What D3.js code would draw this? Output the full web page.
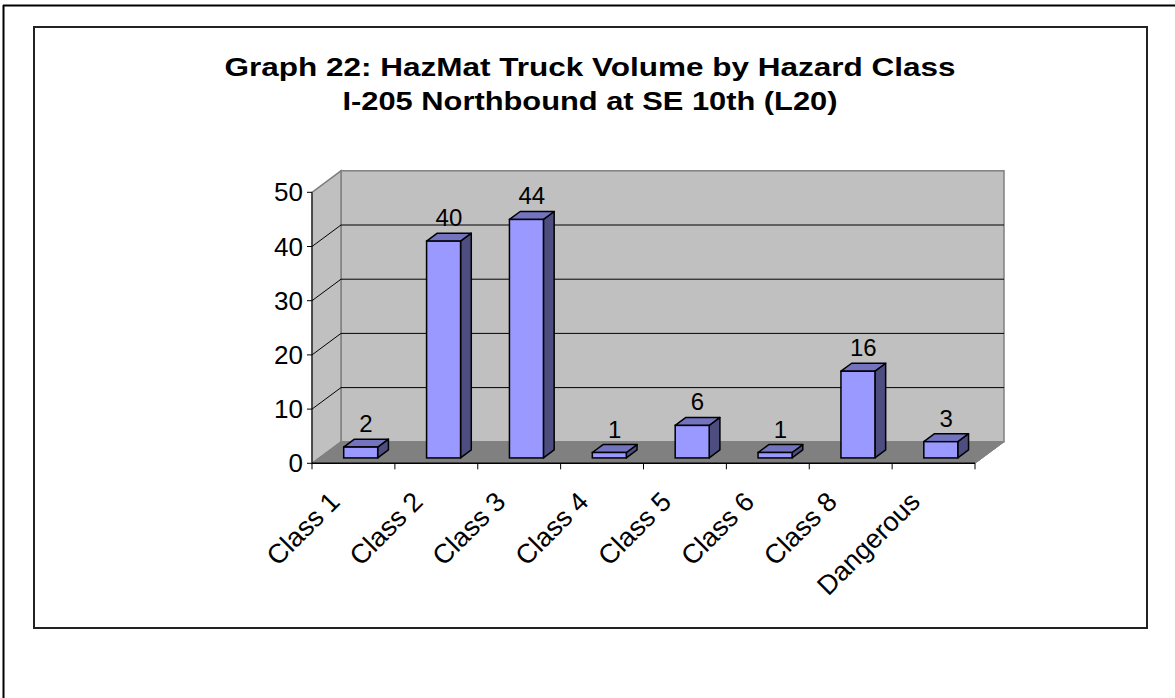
<!DOCTYPE html>
<html>
<head>
<meta charset="utf-8">
<script src="https://cdn.jsdelivr.net/npm/d3@7"></script>
<style>
  body { margin: 0; background: #fff; }
  svg text { font-family: Arial, "Liberation Sans", sans-serif; }
</style>
</head>
<body>
<svg width="1175" height="698"></svg>
<script>
const categories = ["Class 1", "Class 2", "Class 3", "Class 4", "Class 5", "Class 6", "Class 8", "Dangerous"];
const values = [2, 40, 44, 1, 6, 1, 16, 3];
const yTicks = [0, 10, 20, 30, 40, 50];
const titleLines = ["Graph 22: HazMat Truck Volume by Hazard Class", "I-205 Northbound at SE 10th (L20)"];

const svg = d3.select("svg");

// 3d depth offset of the plot box
const depthX = 29, depthY = -21.5;

const x = d3.scaleBand().domain(categories).range([312, 975]);
const y = d3.scaleLinear().domain([0, 50]).range([463.3, 192.3]);

// page frame and chart box
svg.append("line").attr("x1", 3).attr("y1", 5.5).attr("x2", 1175).attr("y2", 5.5)
    .attr("stroke", "#000").attr("stroke-width", 2);
svg.append("line").attr("x1", 3.5).attr("y1", 5).attr("x2", 3.5).attr("y2", 698)
    .attr("stroke", "#000").attr("stroke-width", 2);
svg.append("rect").attr("x", 34).attr("y", 27).attr("width", 1113).attr("height", 601)
    .attr("fill", "#fff").attr("stroke", "#222").attr("stroke-width", 2);

// title (the original renders wider than Arial bold, so stretch each line)
const titleWidths = [731, 495];
svg.selectAll(".title").data(titleLines).join("text")
    .attr("x", 590).attr("y", (d, i) => 76 + i * 34)
    .attr("text-anchor", "middle")
    .attr("font-size", 25).attr("font-weight", "bold")
    .attr("textLength", (d, i) => titleWidths[i])
    .attr("lengthAdjust", "spacingAndGlyphs")
    .text(d => d);

const x0 = x.range()[0], x1 = x.range()[1];
const yTop = y(50), yBase = y(0);

// back wall
svg.append("rect")
    .attr("x", x0 + depthX).attr("y", yTop + depthY)
    .attr("width", x1 - x0).attr("height", yBase - yTop)
    .attr("fill", "#c0c0c0").attr("stroke", "#808080").attr("stroke-width", 1.5);

// left wall
svg.append("path")
    .attr("d", `M${x0},${yTop}L${x0 + depthX},${yTop + depthY}L${x0 + depthX},${yBase + depthY}L${x0},${yBase}Z`)
    .attr("fill", "#c0c0c0").attr("stroke", "#808080").attr("stroke-width", 1.5);

// floor
svg.append("path")
    .attr("d", `M${x0},${yBase}L${x0 + depthX},${yBase + depthY}L${x1 + depthX},${yBase + depthY}L${x1},${yBase}Z`)
    .attr("fill", "#808080").attr("stroke", "#808080").attr("stroke-width", 1);

// gridlines
const inner = yTicks.filter(t => t > 0 && t < 50);
svg.selectAll(".grid-back").data(inner).join("line")
    .attr("x1", x0 + depthX).attr("x2", x1 + depthX)
    .attr("y1", d => y(d) + depthY).attr("y2", d => y(d) + depthY)
    .attr("stroke", "#000").attr("stroke-width", 1);
svg.selectAll(".grid-side").data(inner).join("line")
    .attr("x1", x0).attr("x2", x0 + depthX)
    .attr("y1", d => y(d)).attr("y2", d => y(d) + depthY)
    .attr("stroke", "#000").attr("stroke-width", 1);

// bars
const dFront = 0.25, dBack = 0.62;
const barW = x.bandwidth() * 0.41;
const fX = dFront * depthX, fY = dFront * depthY;
const bX = (dBack - dFront) * depthX, bY = (dBack - dFront) * depthY;

const bars = svg.selectAll(".bar").data(values).join("g");
bars.each(function (v, i) {
    const g = d3.select(this);
    const left = x(categories[i]) + x.bandwidth() / 2 - barW / 2 + fX;
    const right = left + barW;
    const top = y(v) + fY;
    const base = y(0) + fY;
    g.append("path")
        .attr("d", `M${right},${top}L${right + bX},${top + bY}L${right + bX},${base + bY}L${right},${base}Z`)
        .attr("fill", "#4d4d80").attr("stroke", "#000").attr("stroke-width", 1.5).attr("stroke-linejoin", "round");
    g.append("path")
        .attr("d", `M${left},${top}L${left + bX},${top + bY}L${right + bX},${top + bY}L${right},${top}Z`)
        .attr("fill", "#7373c0").attr("stroke", "#000").attr("stroke-width", 1.5).attr("stroke-linejoin", "round");
    g.append("rect")
        .attr("x", left).attr("y", top).attr("width", barW).attr("height", base - top)
        .attr("fill", "#9999ff").attr("stroke", "#000").attr("stroke-width", 1.5);
    g.append("text")
        .attr("x", left + barW / 2 + bX / 2).attr("y", top + bY / 2 - 11)
        .attr("text-anchor", "middle").attr("font-size", 24)
        .text(v);
});

// value axis
svg.append("line").attr("x1", x0).attr("x2", x0).attr("y1", yTop).attr("y2", yBase)
    .attr("stroke", "#000").attr("stroke-width", 1);
svg.selectAll(".ytick").data(yTicks).join("line")
    .attr("x1", x0 - 5).attr("x2", x0).attr("y1", d => y(d)).attr("y2", d => y(d))
    .attr("stroke", "#000");
svg.selectAll(".ylabel").data(yTicks).join("text")
    .attr("x", x0 - 9).attr("y", d => y(d)).attr("dy", "0.35em")
    .attr("text-anchor", "end").attr("font-size", 26)
    .text(d => d);

// category axis
svg.append("line").attr("x1", x0).attr("x2", x1).attr("y1", yBase).attr("y2", yBase)
    .attr("stroke", "#000").attr("stroke-width", 1.5);
svg.append("line").attr("x1", x1).attr("x2", x1 + depthX).attr("y1", yBase).attr("y2", yBase + depthY)
    .attr("stroke", "#808080").attr("stroke-width", 1);
svg.selectAll(".xtick").data(d3.range(categories.length + 1)).join("line")
    .attr("x1", i => x0 + i * x.step()).attr("x2", i => x0 + i * x.step())
    .attr("y1", yBase).attr("y2", yBase + 6)
    .attr("stroke", "#000");
svg.selectAll(".xlabel").data(categories).join("text")
    .attr("transform", d => `translate(${x(d) + x.bandwidth() / 2 - 12},${yBase + 40}) rotate(-45)`)
    .attr("text-anchor", "end").attr("font-size", 27)
    .text(d => d);
</script>
</body>
</html>
